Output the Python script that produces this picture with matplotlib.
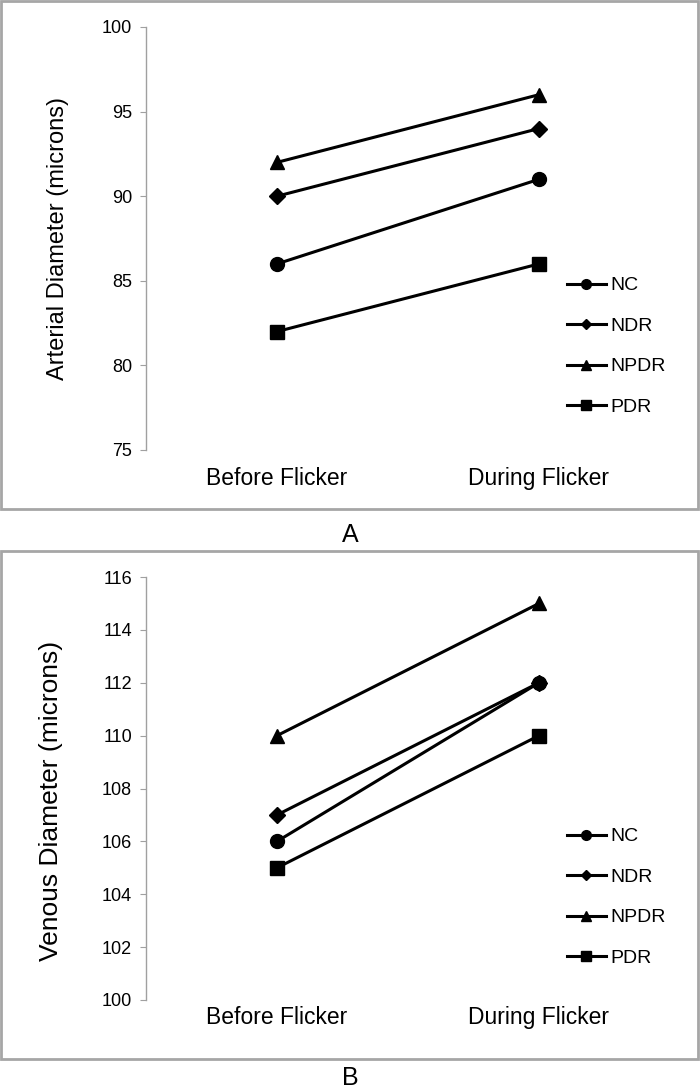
import matplotlib
matplotlib.use("Agg")
import matplotlib.pyplot as plt
from matplotlib.patches import Rectangle
from matplotlib.lines import Line2D

plt.rcParams['font.family'] = ['Liberation Sans', 'DejaVu Sans']

conditions = ["Before Flicker", "During Flicker"]
groups = ["NC", "NDR", "NPDR", "PDR"]
markers = {"NC": "o", "NDR": "D", "NPDR": "^", "PDR": "s"}
msizes = {"NC": 10, "NDR": 8, "NPDR": 10, "PDR": 10}

arterial = {"NC": [86, 91], "NDR": [90, 94], "NPDR": [92, 96], "PDR": [82, 86]}
venous = {"NC": [106, 112], "NDR": [107, 112], "NPDR": [110, 115], "PDR": [105, 110]}

fig = plt.figure(figsize=(7, 10.9), dpi=100)
H = 1090.0

def fy(px):
    return 1 - px / H

def panel(rect_px, ax_px, data, ylim, step, ylabel, ylabel_size, xpad,
          letter, letter_y, leg_y):
    # grey frame around each panel
    x0, y0, x1, y1 = rect_px
    fig.patches.append(Rectangle((x0 / 700, fy(y1)), (x1 - x0) / 700, (y1 - y0) / H,
                                 transform=fig.transFigure, fill=False,
                                 edgecolor='#a6a6a6', linewidth=2))
    l, t, r, b = ax_px
    ax = fig.add_axes([l / 700, fy(b), (r - l) / 700, (b - t) / H])
    xs = range(len(conditions))
    for g in groups:
        ax.plot(xs, data[g], color='black', linewidth=2.2, marker=markers[g],
                markersize=msizes[g], markerfacecolor='black', markeredgecolor='black')
    ax.set_xlim(-0.5, 1.5)
    ax.set_ylim(*ylim)
    ax.set_yticks(range(ylim[0], ylim[1] + 1, step))
    ax.set_xticks(list(xs))
    ax.set_xticklabels(conditions, fontsize=16.5)
    ax.tick_params(axis='x', length=0, pad=xpad)
    ax.tick_params(axis='y', direction='out', length=4, color='#a0a0a0',
                   labelsize=13, pad=6)
    for s in ['top', 'right', 'bottom']:
        ax.spines[s].set_visible(False)
    ax.spines['left'].set_color('#a0a0a0')
    ax.spines['left'].set_linewidth(1)
    ax.patch.set_alpha(0)
    ax.set_ylabel(ylabel, fontsize=ylabel_size, labelpad=24)
    handles = [Line2D([0], [0], color='black', linewidth=2.2, marker=markers[g],
                      markersize=7 if g != "NDR" else 5.5) for g in groups]
    fig.legend(handles, groups, loc='upper left',
               bbox_to_anchor=(559 / 700, fy(leg_y)), frameon=False,
               fontsize=14, handlelength=2.0, handletextpad=0.25,
               labelspacing=1.18, borderaxespad=0)
    fig.text(350 / 700, fy(letter_y), letter, ha='center', va='center', fontsize=18)
    return ax

panel((1, 1, 698, 509), (146, 27, 670, 450), arterial, (75, 100), 5,
      "Arterial Diameter (microns)", 17, 12, "A", 535, 269)
axb = panel((1, 551, 698, 1059), (146, 577, 670, 1000), venous, (100, 116), 2,
            "Venous Diameter (microns)", 19, 4, "B", 1078, 820)
axb.yaxis.set_label_coords(-0.158, 0.47)

fig.savefig("out.png", dpi=100)
